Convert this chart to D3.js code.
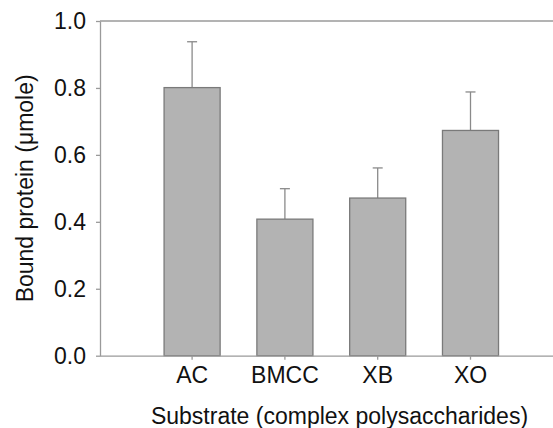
<!DOCTYPE html>
<html>
<head>
<meta charset="utf-8">
<script src="https://cdn.jsdelivr.net/npm/d3@7"></script>
<style>
  body { margin: 0; background: #fff; }
  text { font-family: Arial, "Liberation Sans", sans-serif; fill: #111; }
</style>
</head>
<body>
<svg id="ctner"></svg>
<script>
const categories = ["AC", "BMCC", "XB", "XO"];
const values = [0.801, 0.408, 0.471, 0.673];
const errors = [0.137, 0.091, 0.090, 0.115];
const yTicks = [0.0, 0.2, 0.4, 0.6, 0.8, 1.0];

const width = 553;
const height = 428;
const svg = d3.select("#ctner").attr("width", width).attr("height", height);

/* layout */
const axisLeft = 100;
const yTop = 21;
const yBottom = 355.7;
const fontSize = 23;

/* scales */
const x = d3.scaleBand().domain(categories).range([145.7, 516.9]).paddingInner(0.396).paddingOuter(0.198);
const y = d3.scaleLinear().domain([0, 1]).range([yBottom, yTop]);

const axisColor = "#9a9a9a";

// top frame line
svg.append("line")
  .attr("x1", axisLeft).attr("x2", width)
  .attr("y1", y(1)).attr("y2", y(1))
  .attr("stroke", axisColor).attr("stroke-width", 1.3);

/* bars */
const bars = svg.append("g").selectAll("g")
  .data(categories.map((c, i) => ({ c, v: values[i], e: errors[i] })))
  .join("g");

bars.append("line")
  .attr("x1", (d) => x(d.c) + x.bandwidth() / 2)
  .attr("x2", (d) => x(d.c) + x.bandwidth() / 2)
  .attr("y1", (d) => y(d.v))
  .attr("y2", (d) => y(d.v + d.e))
  .attr("stroke", "#8a8a8a").attr("stroke-width", 1.3);
bars.append("line")
  .attr("x1", (d) => x(d.c) + x.bandwidth() / 2 - 5)
  .attr("x2", (d) => x(d.c) + x.bandwidth() / 2 + 5)
  .attr("y1", (d) => y(d.v + d.e))
  .attr("y2", (d) => y(d.v + d.e))
  .attr("stroke", "#8a8a8a").attr("stroke-width", 1.3);
bars.append("rect")
  .attr("x", (d) => x(d.c))
  .attr("y", (d) => y(d.v))
  .attr("width", x.bandwidth())
  .attr("height", (d) => y(0) - y(d.v))
  .attr("fill", "#b3b3b3")
  .attr("stroke", "#7a7a7a").attr("stroke-width", 1.3);

/* axes */
const yAxis = svg.append("g")
  .attr("transform", `translate(${axisLeft},0)`)
  .call(d3.axisLeft(y).tickValues(yTicks).tickFormat(d3.format(".1f")).tickSize(4).tickSizeOuter(0).tickPadding(10));
yAxis.select(".domain").attr("stroke", axisColor).attr("stroke-width", 1.3);
yAxis.selectAll(".tick line").attr("stroke", axisColor).attr("stroke-width", 1.3);
yAxis.selectAll(".tick text").attr("font-size", fontSize).attr("fill", "#111")
  .attr("font-family", "Arial, 'Liberation Sans', sans-serif");

const xAxis = svg.append("g")
  .attr("transform", `translate(0,${yBottom})`)
  .call(d3.axisBottom(x).tickSize(4).tickSizeOuter(0).tickPadding(7));
xAxis.select(".domain").attr("d", `M${axisLeft},0.5H${width}`)
  .attr("stroke", axisColor).attr("stroke-width", 1.3);
xAxis.selectAll(".tick line").attr("stroke", axisColor).attr("stroke-width", 1.3);
xAxis.selectAll(".tick text").attr("font-size", fontSize).attr("fill", "#111")
  .attr("font-family", "Arial, 'Liberation Sans', sans-serif");

/* titles */
svg.append("text")
  .attr("x", 339.5)
  .attr("y", 424)
  .attr("text-anchor", "middle")
  .attr("font-size", fontSize)
  .text("Substrate (complex polysaccharides)");

svg.append("text")
  .attr("transform", `translate(33,${(yTop + yBottom) / 2}) rotate(-90)`)
  .attr("text-anchor", "middle")
  .attr("font-size", fontSize)
  .text("Bound protein (\u03bcmole)");
</script>
</body>
</html>
